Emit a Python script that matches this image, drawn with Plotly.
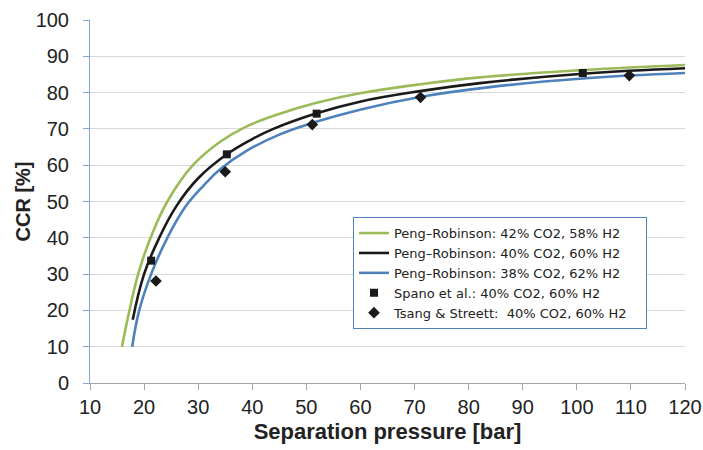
import plotly.graph_objects as go

# ---- data ----
green_p = [15.9, 17.3, 18.9, 21.2, 24.3, 28.9, 34.0, 38.7, 45.1, 51.9, 59.9, 71.0, 82.1, 101.1, 120]
green_ccr = [10, 20, 30, 40, 50, 59.8, 66.4, 70.5, 74.2, 77.2, 79.8, 82.3, 84.2, 86.2, 87.6]

black_p = [17.9, 20.0, 22.8, 26.0, 30.0, 35.3, 40.0, 43.9, 51.9, 59.9, 71.0, 82.1, 101.1, 120]
black_ccr = [17.4, 30.0, 40.0, 48.8, 56.4, 63.0, 67.2, 70.0, 74.3, 77.5, 80.4, 82.6, 85.2, 86.7]

blue_p = [17.8, 19.1, 21.3, 24.3, 27.6, 31.0, 34.0, 39.0, 45.1, 51.0, 59.9, 71.0, 83.9, 101.1, 120]
blue_ccr = [10, 20, 30, 40, 48.5, 54.4, 58.8, 64.0, 68.5, 71.6, 75.3, 78.8, 81.5, 83.9, 85.4]

spano_p = [21.3, 35.3, 51.9, 101.1]
spano_ccr = [33.7, 63.0, 74.2, 85.4]

tsang_p = [22.2, 35.0, 51.1, 71.1, 109.7]
tsang_ccr = [28.1, 58.2, 71.2, 78.7, 84.7]

names = [
    "Peng\u2013Robinson: 42% CO2, 58% H2",
    "Peng\u2013Robinson: 40% CO2, 60% H2",
    "Peng\u2013Robinson: 38% CO2, 62% H2",
    "Spano et al.: 40% CO2, 60% H2",
    "Tsang & Streett: \u00a040% CO2, 60% H2\u00a0\u00a0\u00a0",
]

x_ticks = list(range(10, 121, 10))
y_ticks = list(range(0, 101, 10))

line_style = dict(width=2.6, shape="spline", smoothing=1.2)

fig = go.Figure()
fig.add_trace(go.Scatter(x=green_p, y=green_ccr, mode="lines", name=names[0],
                         line=dict(color="#9BBB59", **line_style)))
fig.add_trace(go.Scatter(x=black_p, y=black_ccr, mode="lines", name=names[1],
                         line=dict(color="#1A1A1A", **line_style)))
fig.add_trace(go.Scatter(x=blue_p, y=blue_ccr, mode="lines", name=names[2],
                         line=dict(color="#4F81BD", **line_style)))
fig.add_trace(go.Scatter(x=spano_p, y=spano_ccr, mode="markers", name=names[3],
                         marker=dict(symbol="square", size=8, color="#1A1A1A")))
fig.add_trace(go.Scatter(x=tsang_p, y=tsang_ccr, mode="markers", name=names[4],
                         marker=dict(symbol="diamond", size=9, color="#1A1A1A")))

fig.update_layout(
    width=703, height=450,
    margin=dict(l=90, r=18, t=20, b=67, autoexpand=False),
    paper_bgcolor="white", plot_bgcolor="white",
    font=dict(family="Liberation Sans, Arial", color="#222222"),
    legend=dict(
        x=0.442, y=0.457, xanchor="left", yanchor="top",
        bgcolor="white", bordercolor="#4F81BD", borderwidth=1,
        font=dict(family="DejaVu Sans", size=13, color="#222222"),
        tracegroupgap=0,
    ),
    xaxis=dict(
        range=[10, 120], tickvals=x_ticks, ticktext=[str(v) for v in x_ticks],
        showgrid=False, zeroline=False, automargin=False,
        showline=True, linecolor="#A6A6A6", linewidth=1,
        ticks="outside", ticklen=6, tickcolor="#A6A6A6",
        tickfont=dict(size=20, color="#222222"),
        title=dict(text="<b>Separation pressure [bar]</b>", font=dict(size=22, color="#222222"), standoff=6),
    ),
    yaxis=dict(
        range=[0, 100], tickvals=y_ticks, ticktext=[str(v) for v in y_ticks],
        showgrid=True, gridcolor="#D9D9D9", gridwidth=1, zeroline=False, automargin=False,
        showline=True, linecolor="#7FA6D8", linewidth=1,
        ticks="outside", ticklen=6, tickcolor="#7FA6D8",
        ticklabelstandoff=10,
        tickfont=dict(size=20, color="#222222"),
    ),
    annotations=[dict(
        text="<b>CCR [%]</b>", textangle=-90, showarrow=False,
        xref="paper", yref="paper", x=(22 - 90) / 595, y=0.5,
        xanchor="center", yanchor="middle",
        font=dict(size=20, color="#222222", family="Liberation Sans, Arial"),
    )],
)

fig.write_html("out.html", config={"displayModeBar": False},
               post_script="document.body.style.margin='0';")
